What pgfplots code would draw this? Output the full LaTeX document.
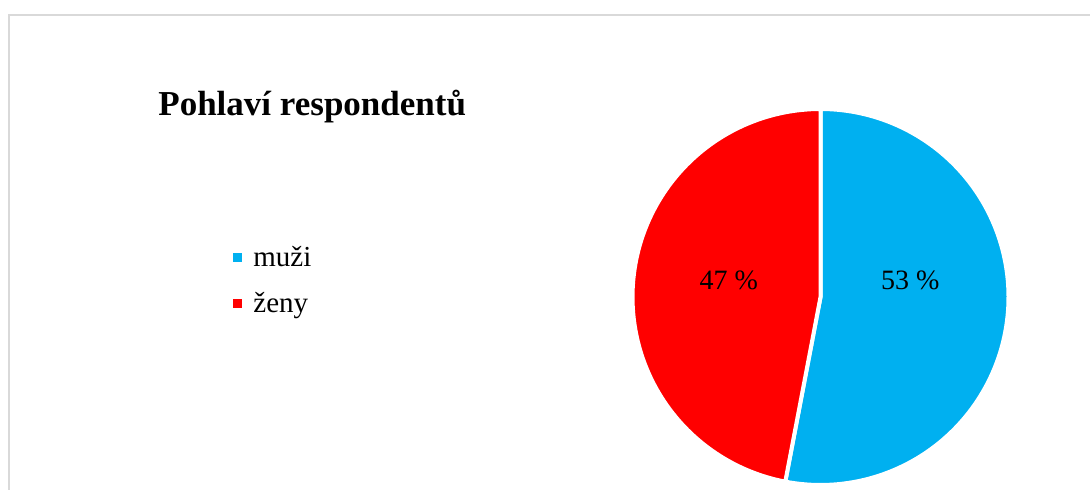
\documentclass[border=0pt]{standalone}
\usepackage{fontspec}
\setmainfont{Liberation Serif}
\usepackage{pgfplots}
\pgfplotsset{compat=1.18}
\definecolor{muzi}{HTML}{00B0F0}
\definecolor{zeny}{HTML}{FF0000}
\definecolor{frame}{HTML}{D9D9D9}
\begin{document}
\begin{tikzpicture}
\begin{scope}[x=0.5pt,y=-0.5pt]
\useasboundingbox (0,0) rectangle (1090,490);
\draw[frame, line width=1pt] (8.5,490) -- (8.5,15) -- (1090,15);
\node[anchor=base west, inner sep=0pt, font=\fontsize{17.5}{20}\selectfont\bfseries] at (158,116) {Pohlaví respondentů};
\fill[muzi] (233,253) rectangle (242,262);
\node[anchor=base west, inner sep=0pt, font=\fontsize{14.5}{17}\selectfont] at (253,267) {muži};
\fill[zeny] (233,299) rectangle (242,308);
\node[anchor=base west, inner sep=0pt, font=\fontsize{14.5}{17}\selectfont] at (253,313) {ženy};
\end{scope}
\begin{axis}[at={(410.25pt,-148.5pt)}, anchor=center,
  width=188pt, height=188pt, scale only axis,
  xmin=-1, xmax=1, ymin=-1, ymax=1, hide axis, clip=false]
% values: muzi 53, zeny 47 (percent); slices start at 12 o'clock, clockwise
\addplot[fill=muzi, draw=white, line width=2pt, domain={90-53*3.6}:90, samples=120, variable=\t]
  ({cos(\t)},{sin(\t)}) -- (axis cs:0,0) -- cycle;
\addplot[fill=zeny, draw=white, line width=2pt, domain={90-100*3.6}:{90-53*3.6}, samples=120, variable=\t]
  ({cos(\t)},{sin(\t)}) -- (axis cs:0,0) -- cycle;
\node[font=\fontsize{14}{17}\selectfont] at (axis cs:0.477,0.091) {53 \%};
\node[font=\fontsize{14}{17}\selectfont] at (axis cs:-0.488,0.091) {47 \%};
\end{axis}
\end{tikzpicture}
\end{document}
